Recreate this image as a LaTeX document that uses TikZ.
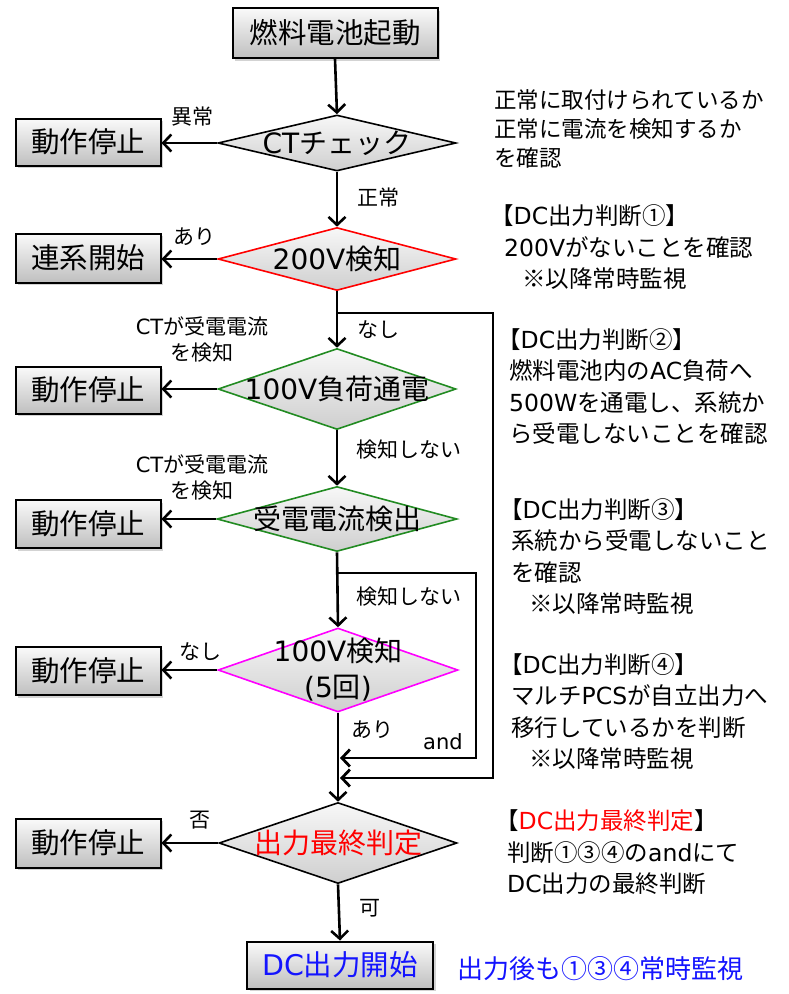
\documentclass[tikz,border=0pt]{standalone}
\usepackage{fontspec}
\setmainfont{Noto Sans CJK JP}
\newfontfamily\ltfam{DejaVu Sans}
\newcommand\latn[1]{{\ltfam #1}}
\usetikzlibrary{arrows.meta,shapes.geometric,shadows}
\definecolor{dgreen}{RGB}{34,139,34}
\definecolor{mag}{RGB}{255,0,255}
\definecolor{bred}{RGB}{255,0,0}
\definecolor{bblue}{RGB}{20,20,255}
\begin{document}
\begin{tikzpicture}[x=1pt,y=-1pt,
  box/.style={rectangle, draw=black, line width=2pt, top color=gray!4, bottom color=gray!50,
    inner sep=0pt, minimum width=145pt, minimum height=47pt,
    font=\fontsize{28.5}{32}\selectfont,
    drop shadow={shadow xshift=2.5pt, shadow yshift=-2.5pt, opacity=0.35}},
  dia/.style={diamond, draw=#1, line width=1.6pt, top color=gray!6, bottom color=gray!38, inner sep=0pt},
  dtx/.style={font=\fontsize{28}{36}\selectfont, inner sep=0pt},
  lab/.style={font=\fontsize{21}{26}\selectfont, inner sep=0pt, align=center},
  arr/.style={line width=2.6pt, -{Straight Barb[length=8pt, width=17pt]}},
  rt/.style={anchor=west, align=left, inner sep=0pt, font=\fontsize{23.5}{31.5}\selectfont},
  rtone/.style={anchor=west, align=left, inner sep=0pt, font=\fontsize{22.5}{29}\selectfont}
]
\useasboundingbox (0,0) rectangle (789,994);

% main column
\node[box, minimum width=205pt, minimum height=50pt] (start) at (335,33) {燃料電池起動};
\node[dia=black, minimum width=238pt, minimum height=56pt, label={[dtx]center:\latn{CT}チェック}] (ct) at (337,143) {};
\node[dia=bred, minimum width=238pt, minimum height=63pt, label={[dtx]center:\latn{200V}検知}] (v200) at (337,259) {};
\node[dia=dgreen, minimum width=238pt, minimum height=81pt, label={[dtx]center:\latn{100V}負荷通電}] (load) at (337,389) {};
\node[dia=dgreen, minimum width=240pt, minimum height=65pt, label={[dtx]center:受電電流検出}] (recv) at (337,519) {};
\node[dia=mag, minimum width=240pt, minimum height=84pt, label={[dtx, align=center]center:{\latn{100V}検知\\\latn{(5}回\latn{)}}}] (v100) at (338,670) {};
\node[dia=black, minimum width=238pt, minimum height=81pt, label={[dtx, text=bred]center:出力最終判定}] (final) at (338,843) {};
\node[box, minimum width=186pt, text=bblue] (dcstart) at (340,965) {\latn{DC}出力開始};

% left column
\node[box] (stop1) at (88,142) {動作停止};
\node[box, minimum height=49pt] (renkei) at (88,258) {連系開始};
\node[box] (stop2) at (88,390) {動作停止};
\node[box, minimum height=48pt] (stop3) at (88,524) {動作停止};
\node[box, minimum height=48pt] (stop4) at (88,671) {動作停止};
\node[box, minimum height=49pt] (stop5) at (88,843) {動作停止};

% main arrows
\draw[arr] (start.south) -- (ct.north);
\draw[arr] (ct.south) -- (v200.north);
\draw[arr] (v200.south) -- (load.north);
\draw[arr] (load.south) -- (recv.north);
\draw[arr] (recv.south) -- (v100.north);
\draw[arr] (v100.south) -- (final.north);
\draw[arr] (final.south) -- (dcstart.north);

% side arrows
\draw[arr] (ct.west) -- (ct.west -| stop1.east);
\draw[arr] (v200.west) -- (v200.west -| renkei.east);
\draw[arr] (load.west) -- (load.west -| stop2.east);
\draw[arr] (recv.west) -- (recv.west -| stop3.east);
\draw[arr] (v100.west) -- (v100.west -| stop4.east);
\draw[arr] (final.west) -- (final.west -| stop5.east);

% loops
\coordinate (j1) at (337,313);
\coordinate (r1) at (493,778);
\coordinate (m1) at (340,778);
\coordinate (j2) at (337,573);
\coordinate (r2) at (476,758);
\coordinate (m2) at (340,758);
\draw[arr, line width=2.8pt] (j1) -| (r1) -- (m1);
\draw[arr, line width=2.8pt] (j2) -| (r2) -- (m2);

% labels
\node[lab] (l1) at (192,117) {異常};
\node[lab] (l2) at (378,198) {正常};
\node[lab] (l3) at (194,237) {あり};
\node[lab] (l4) at (378,330) {なし};
\node[lab] (l5) at (202,340) {\latn{CT}が受電電流\\を検知};
\node[lab] (l6) at (409,450) {検知しない};
\node[lab] (l7) at (202,478) {\latn{CT}が受電電流\\を検知};
\node[lab] (l8) at (409,597) {検知しない};
\node[lab] (l9) at (200,652) {なし};
\node[lab] (l10) at (372,730) {あり};
\node[lab] (l11) at (443,742) {\latn{and}};
\node[lab] (l12) at (200,820) {否};
\node[lab] (l13) at (370,908) {可};

% right notes
\node[rtone] (n1) at (494,129) {正常に取付けられているか\\正常に電流を検知するか\\を確認};
\node[rt] (n2) at (490,247.5) {【\latn{DC}出力判断①】\\\hspace*{14pt}\latn{200V}がないことを確認\\\hspace*{32pt}※以降常時監視};
\node[rt] (n3) at (497,386.5) {【\latn{DC}出力判断②】\\\hspace*{12pt}燃料電池内の\latn{AC}負荷へ\\\hspace*{12pt}\latn{500W}を通電し、系統か\\\hspace*{12pt}ら受電しないことを確認};
\node[rt] (n4) at (499,556.5) {【\latn{DC}出力判断③】\\\hspace*{12pt}系統から受電しないこと\\\hspace*{12pt}を確認\\\hspace*{30pt}※以降常時監視};
\node[rt] (n5) at (499,711.5) {【\latn{DC}出力判断④】\\\hspace*{12pt}マルチ\latn{PCS}が自立出力へ\\\hspace*{12pt}移行しているかを判断\\\hspace*{30pt}※以降常時監視};
\node[rt] (n6) at (495,852.5) {【\textcolor{bred}{\latn{DC}出力最終判定}】\\\hspace*{12pt}判断①③④の\latn{and}にて\\\hspace*{12pt}\latn{DC}出力の最終判断};
\node[anchor=west, inner sep=0pt, font=\fontsize{26}{30}\selectfont, text=bblue] (n7) at (457,969) {出力後も①③④常時監視};
\end{tikzpicture}
\end{document}
